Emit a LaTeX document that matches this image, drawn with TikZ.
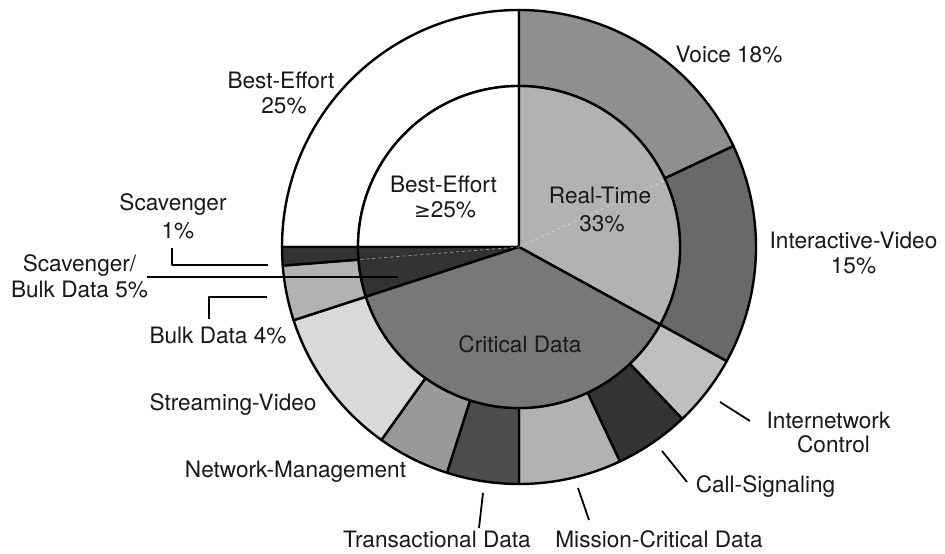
\documentclass[tikz,border=0pt]{standalone}
\usepackage{fontspec}
\setmainfont{TeX Gyre Heros}
\newfontfamily\symfont{DejaVu Sans}
\begin{document}
\begin{tikzpicture}[x=1pt,y=1pt,line join=round,
  wedge/.style={draw=black,line width=2.4pt},
  leader/.style={draw=black,line width=1.8pt},
  seam/.style={draw=white,line width=0.6pt,opacity=0.6,dashed},
  lbl/.style={anchor=base,inner sep=0pt,text=black!90,font=\fontsize{22.6}{27}\selectfont}]
\useasboundingbox (0,0) rectangle (945,554);
\fill[white] (0,0) rectangle (945,554);
\coordinate (O) at (519,307);
\def\Ro{237}
\def\Ri{161}
% one sector of the outer ring: start angle, end angle, fill
\newcommand\ringpart[3]{%
  \path[wedge,fill=#3] ([shift={(#1:\Ri)}]O) arc[start angle=#1,end angle=#2,radius=\Ri]
    -- ([shift={(#2:\Ro)}]O) arc[start angle=#2,end angle=#1,radius=\Ro] -- cycle;}
% one wedge of the inner pie
\newcommand\piepart[3]{%
  \path[wedge,fill=#3] (O) -- ([shift={(#1:\Ri)}]O) arc[start angle=#1,end angle=#2,radius=\Ri] -- cycle;}

% outer ring
\ringpart{90}{180}{white}
\ringpart{25.2}{90}{black!44}
\ringpart{-28.8}{25.2}{black!59}
\ringpart{-46.5}{-28.8}{black!25}
\ringpart{-64.8}{-46.5}{black!80}
\ringpart{-90}{-64.8}{black!30}
\ringpart{252.3}{270}{black!70}
\ringpart{234.5}{252.3}{black!40}
\ringpart{198}{234.5}{black!15}
\ringpart{184.5}{198}{black!30}
\ringpart{180}{184.5}{black!80}

% inner pie
\piepart{90}{180}{white}
\piepart{-28.8}{90}{black!30}
\piepart{180}{198}{black!80}
\piepart{198}{331.2}{black!53}
\draw[seam] (O) -- ([shift={(24.5:\Ri)}]O);
\draw[seam] (O) -- ([shift={(184.5:\Ri)}]O);

% labels
\node[lbl] (voice) at (729,491.3) {Voice 18\%};
\node[lbl] (be1) at (281,465) {Best-Effort};
\node[lbl] (be2) at (284,440) {25\%};
\node[lbl] (ibe1) at (443.5,361) {Best-Effort};
\node[lbl] (ibe2) at (445,336) {{\symfont\fontsize{20}{24}\selectfont ≥}25\%};
\node[lbl] (rt1) at (600,350) {Real-Time};
\node[lbl] (rt2) at (602,322.5) {33\%};
\node[lbl] (cd) at (520,201) {Critical Data};
\node[lbl] (iv1) at (853.5,305) {Interactive-Video};
\node[lbl] (iv2) at (853.5,280) {15\%};
\node[lbl] (ic1) at (828.5,125) {Internetwork};
\node[lbl] (ic2) at (833.5,101) {Control};
\node[lbl] (cs) at (765.5,61) {Call-Signaling};
\node[lbl] (mc) at (659,6) {Mission-Critical Data};
\node[lbl] (td) at (437,6) {Transactional Data};
\node[lbl] (nm) at (295.5,76) {Network-Management};
\node[lbl] (sv) at (233,143) {Streaming-Video};
\node[lbl] (sc1) at (173,343) {Scavenger};
\node[lbl] (sc2) at (178,315) {1\%};
\node[lbl] (sb1) at (79.5,282) {Scavenger/};
\node[lbl] (sb2) at (79.5,256) {Bulk Data 5\%};
\node[lbl] (bd) at (218,210) {Bulk Data 4\%};

% leader lines
\coordinate (scA) at (172,306);
\coordinate (scB) at (172,289);
\coordinate (scC) at (268,289);
\coordinate (sbA) at (147,277);
\coordinate (sbB) at (398,277);
\coordinate (bdA) at (209,235);
\coordinate (bdB) at (209,257);
\coordinate (bdC) at (267,257);
\coordinate (icA) at (720,152);
\coordinate (icB) at (750,133);
\coordinate (csA) at (662,103);
\coordinate (csB) at (687,72);
\coordinate (tdA) at (483,61);
\coordinate (tdB) at (479,26);
\coordinate (mcA) at (578,66);
\coordinate (mcB) at (589,34);
\draw[leader] (scA) -- (scB) -- (scC);
\draw[leader] (sbA) -- (sbB);
\draw[leader] (bdA) -- (bdB) -- (bdC);
\draw[leader] (icA) -- (icB);
\draw[leader] (csA) -- (csB);
\draw[leader] (tdA) -- (tdB);
\draw[leader] (mcA) -- (mcB);
\end{tikzpicture}
\end{document}
